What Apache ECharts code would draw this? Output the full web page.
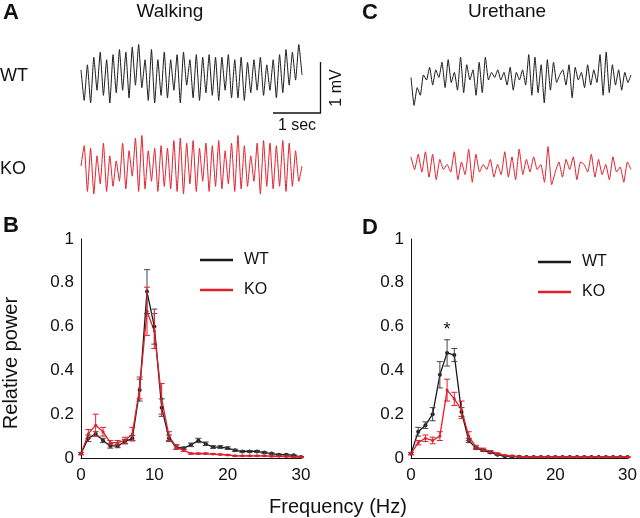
<!DOCTYPE html>
<html><head><meta charset="utf-8">
<script src="https://cdn.jsdelivr.net/npm/echarts@6/dist/echarts.min.js"></script>
<style>html,body{margin:0;padding:0;background:#fff}#c{width:640px;height:518px}</style>
</head><body><div id="c"></div>
<script>
// ---- Data ----
var freq = [];
for (var f = 0; f <= 30; f++) freq.push(f);

// Panel B (walking) relative power, mean and SEM
var walkWT = [0.02,0.09,0.11,0.08,0.055,0.055,0.075,0.09,0.31,0.76,0.60,0.23,0.09,0.05,0.045,0.06,0.08,0.065,0.05,0.05,0.045,0.035,0.03,0.03,0.03,0.025,0.02,0.015,0.015,0.012,0.005];
var walkWTerr = [0.005,0.015,0.01,0.01,0.01,0.008,0.01,0.012,0.05,0.10,0.08,0.04,0.015,0.01,0.005,0.008,0.01,0.008,0.006,0.006,0.006,0.005,0.004,0.004,0.004,0.004,0.003,0.003,0.003,0.003,0.002];
var walkKO = [0.02,0.11,0.15,0.12,0.07,0.07,0.08,0.11,0.32,0.67,0.58,0.27,0.10,0.05,0.035,0.02,0.02,0.02,0.018,0.016,0.014,0.01,0.01,0.01,0.01,0.01,0.008,0.008,0.007,0.005,0.004];
var walkKOerr = [0.005,0.02,0.05,0.02,0.01,0.01,0.015,0.03,0.05,0.11,0.08,0.07,0.02,0.01,0.005,0.003,0.003,0.003,0.002,0.002,0.002,0.002,0.002,0.002,0.002,0.002,0.002,0.002,0.002,0.002,0.002];

// Panel D (urethane)
var ureWT = [0.02,0.12,0.15,0.20,0.38,0.48,0.47,0.21,0.08,0.045,0.035,0.025,0.015,0.008,0.006,0.006,0.005,0.005,0.005,0.005,0.005,0.005,0.005,0.005,0.005,0.005,0.005,0.005,0.005,0.005,0.004];
var ureWTerr = [0.005,0.02,0.015,0.03,0.06,0.06,0.03,0.02,0.01,0.005,0.005,0.004,0.003,0.002,0.002,0.002,0.002,0.002,0.002,0.002,0.002,0.002,0.002,0.002,0.002,0.002,0.002,0.002,0.002,0.002,0.002];
var ureKO = [0.02,0.07,0.09,0.08,0.10,0.31,0.27,0.22,0.10,0.05,0.04,0.03,0.02,0.012,0.01,0.006,0.005,0.005,0.005,0.005,0.005,0.005,0.005,0.005,0.004,0.004,0.004,0.004,0.004,0.004,0.004];
var ureKOerr = [0.005,0.01,0.015,0.015,0.02,0.05,0.03,0.04,0.02,0.008,0.005,0.004,0.003,0.002,0.002,0.002,0.002,0.002,0.002,0.002,0.002,0.002,0.002,0.002,0.002,0.002,0.002,0.002,0.002,0.002,0.002];

// Example traces (mV)
var traceWalkWT = [0.1,-0.5,0.2,-0.55,0.35,-0.3,0.45,-0.4,0.3,-0.55,0.4,-0.35,0.5,-0.3,0.45,-0.45,0.55,-0.2,0.6,-0.25,0.3,-0.5,0.5,-0.55,0.3,-0.4,0.45,-0.45,0.3,-0.3,0.4,-0.55,0.45,-0.2,0.3,-0.45,0.4,-0.5,0.35,-0.35,0.4,-0.4,0.35,-0.5,0.35,-0.3,0.4,-0.45,0.3,-0.45,0.35,-0.5,0.25,-0.35,0.3,-0.3,0.35,-0.4,0.2,-0.3,0.3,-0.45,0.4,-0.35,0.5,-0.2,0.45,-0.1,0.6,0.0];
var traceWalkKO = [0.0,0.4,-0.5,0.35,-0.55,0.2,-0.35,0.45,-0.5,0.2,-0.4,0.1,-0.3,0.45,-0.45,0.3,-0.2,0.55,-0.5,0.6,-0.45,0.3,-0.3,0.35,-0.5,0.4,-0.4,0.35,-0.45,0.5,-0.5,0.55,-0.55,0.45,-0.35,0.5,-0.5,0.35,-0.3,0.45,-0.5,0.4,-0.4,0.5,-0.45,0.3,-0.35,0.45,-0.5,0.6,-0.45,0.4,-0.4,0.2,-0.3,0.45,-0.55,0.5,-0.4,0.45,-0.45,0.4,-0.4,0.5,-0.5,0.45,-0.4,0.3,-0.3,0.0];
var traceUreWT = [0.05,-0.5,-0.15,-0.3,0.1,0.0,0.25,-0.1,0.2,0.05,0.35,-0.15,0.4,-0.05,0.15,-0.2,0.45,-0.25,0.3,0.0,0.2,-0.3,0.35,-0.25,0.45,0.0,0.15,0.05,0.2,0.0,0.15,-0.1,0.25,-0.2,0.15,0.0,0.2,-0.1,0.5,-0.3,0.45,-0.25,0.3,-0.45,0.4,-0.2,0.35,-0.05,0.1,0.2,-0.1,0.3,-0.35,0.25,0.0,0.15,-0.15,0.3,-0.1,0.2,-0.05,0.5,-0.3,0.55,-0.25,0.3,-0.1,0.2,-0.2,0.15,-0.05,0.1];
var traceUreKO = [0.2,-0.05,0.25,-0.1,0.3,-0.2,0.25,-0.25,0.15,-0.05,0.05,-0.1,0.3,-0.25,0.1,-0.15,0.35,-0.3,0.25,-0.1,0.05,-0.05,0.15,-0.2,0.05,-0.15,0.3,-0.2,0.2,-0.25,0.35,-0.15,0.15,-0.1,0.2,-0.05,0.05,-0.3,0.4,-0.35,-0.1,0.1,-0.2,0.15,-0.05,0.2,-0.25,0.1,0.05,-0.1,0.25,-0.2,0.15,-0.15,0.05,-0.25,0.2,-0.1,0.0,-0.3,0.1,-0.05];

var xTicks = [0, 10, 20, 30];
var yTicks = [0, 0.2, 0.4, 0.6, 0.8, 1];

var BLACK = '#1a1a1a', RED = '#e0202c', FONT = 'Liberation Sans, Arial, sans-serif';

function idx(a){ return a.map(function(v,i){ return [i, v]; }); }
function pairs(y){ return freq.map(function(f,i){ return [f, y[i]]; }); }
function errData(y, e){ return freq.map(function(f,i){ return [f, y[i]-e[i], y[i]+e[i]]; }); }

function errSeries(name, xi, y, e, color){
  return {
    type:'custom', name:name, xAxisIndex:xi, yAxisIndex:xi, z:5,
    data: errData(y,e),
    renderItem: function(params, api){
      var lo = api.coord([api.value(0), api.value(1)]);
      var hi = api.coord([api.value(0), api.value(2)]);
      var w = 3;
      return {type:'group', children:[
        {type:'line', shape:{x1:lo[0],y1:lo[1],x2:hi[0],y2:hi[1]}, style:{stroke:color,lineWidth:1}},
        {type:'line', shape:{x1:hi[0]-w,y1:hi[1],x2:hi[0]+w,y2:hi[1]}, style:{stroke:color,lineWidth:1}},
        {type:'line', shape:{x1:lo[0]-w,y1:lo[1],x2:lo[0]+w,y2:lo[1]}, style:{stroke:color,lineWidth:1}}
      ]};
    }
  };
}
function lineSeries(name, xi, y, color, sym){
  return {type:'line', name:name, xAxisIndex:xi, yAxisIndex:xi, data:pairs(y),
    symbol:'circle', symbolSize:sym, showSymbol:true, color:color,
    lineStyle:{color:color, width:1.3}, itemStyle:{color:color}, z:3};
}
function traceSeries(xi, d, color){
  return {type:'line', xAxisIndex:xi, yAxisIndex:xi, data:idx(d), showSymbol:false, symbol:'none',
    lineStyle:{color:color, width:1}, smooth:0.15, silent:true};
}

var grids = [
  {left:81, top:239, width:220, height:219},   // B
  {left:411, top:239, width:219, height:219},  // D
  {left:81, top:44.5, width:221, height:61},   // walk WT
  {left:81, top:135.5, width:221, height:61},  // walk KO
  {left:411, top:49.5, width:220, height:61},  // ure WT
  {left:411, top:136.5, width:220, height:61}  // ure KO
];
var traceLens = [traceWalkWT.length, traceWalkKO.length, traceUreWT.length, traceUreKO.length];

var xAxes = [], yAxes = [];
for (var g = 0; g < 2; g++){
  xAxes.push({gridIndex:g, type:'value', min:0, max:30, interval:10,
    axisLine:{show:true, onZero:false, lineStyle:{color:'#111', width:1}}, axisTick:{show:false},
    splitLine:{show:false}, axisLabel:{color:'#111', fontSize:17, fontFamily:FONT, margin:9}});
  yAxes.push({gridIndex:g, type:'value', min:0, max:1, interval:0.2,
    axisLine:{show:true, lineStyle:{color:'#111', width:1}}, axisTick:{show:false},
    splitLine:{show:false}, axisLabel:{color:'#111', fontSize:17, fontFamily:FONT, margin:7,
      formatter:function(v){ return String(+v.toFixed(1)); }}});
}
for (var t = 0; t < 4; t++){
  xAxes.push({gridIndex:t+2, type:'value', min:0, max:traceLens[t]-1, show:false});
  yAxes.push({gridIndex:t+2, type:'value', min:-0.6, max:0.6, show:false});
}

var series = [
  lineSeries('WT', 0, walkWT, BLACK, 4),
  lineSeries('KO', 0, walkKO, RED, 3),
  errSeries('WT', 0, walkWT, walkWTerr, '#444'),
  errSeries('KO', 0, walkKO, walkKOerr, RED),
  lineSeries('WT', 1, ureWT, BLACK, 4),
  lineSeries('KO', 1, ureKO, RED, 3),
  errSeries('WT', 1, ureWT, ureWTerr, '#444'),
  errSeries('KO', 1, ureKO, ureKOerr, RED),
  traceSeries(2, traceWalkWT, BLACK),
  traceSeries(3, traceWalkKO, RED),
  traceSeries(4, traceUreWT, BLACK),
  traceSeries(5, traceUreKO, RED)
];
// significance asterisk in D at 5 Hz
series[4].markPoint = {symbol:'circle', symbolSize:1, itemStyle:{color:'rgba(0,0,0,0)'},
  label:{show:true, formatter:'*', color:'#111', fontSize:18, fontFamily:FONT, position:'inside'},
  data:[{coord:[5, 0.585]}]};

function legend(left, top){
  return {left:left, top:top, orient:'vertical', itemWidth:33, itemHeight:2.5, itemGap:14, icon:'rect',
    selectedMode:false, data:['WT','KO'],
    textStyle:{color:'#111', fontSize:16, fontFamily:FONT, padding:[0,0,0,6]}};
}

var T = function(x, y, text, size, opts){
  opts = opts || {};
  return {type:'text', left:x, top:y, rotation:opts.rot||0, silent:true,
    style:{text:text, fill:'#111', font:(opts.bold?'bold ':'')+size+'px '+FONT,
      textAlign:opts.align||'left', textVerticalAlign:opts.valign||'top'}};
};

var graphics = [
  T(3, 2, 'A', 22, {bold:true}),
  T(362, 2, 'C', 22, {bold:true}),
  T(3, 215, 'B', 22, {bold:true}),
  T(362, 217, 'D', 22, {bold:true}),
  {type:'text', x:170, y:2, silent:true, style:{text:'Walking', fill:'#111', font:'19px '+FONT, textAlign:'center', textVerticalAlign:'top'}},
  {type:'text', x:507, y:2, silent:true, style:{text:'Urethane', fill:'#111', font:'19px '+FONT, textAlign:'center', textVerticalAlign:'top'}},
  T(0, 67, 'WT', 18),
  T(0, 160, 'KO', 18),
  {type:'text', x:297, y:118, silent:true, style:{text:'1 sec', fill:'#111', font:'16px '+FONT, textAlign:'center', textVerticalAlign:'top'}},
  {type:'text', x:337, y:88, rotation:Math.PI/2, silent:true, style:{text:'1 mV', fill:'#111', font:'16px '+FONT, textAlign:'center', textVerticalAlign:'middle'}},
  {type:'line', silent:true, shape:{x1:273, y1:113, x2:321, y2:113}, style:{stroke:'#111', lineWidth:1.3}},
  {type:'line', silent:true, shape:{x1:320.5, y1:62, x2:320.5, y2:113}, style:{stroke:'#111', lineWidth:1.3}},
  {type:'text', x:11, y:363, rotation:Math.PI/2, silent:true, style:{text:'Relative power', fill:'#111', font:'20px '+FONT, textAlign:'center', textVerticalAlign:'middle'}},
  {type:'text', x:338, y:507, silent:true, style:{text:'Frequency (Hz)', fill:'#111', font:'20px '+FONT, textAlign:'center', textVerticalAlign:'middle'}}
];

var chart = echarts.init(document.getElementById('c'), null, {renderer:'canvas'});
chart.setOption({
  animation:false,
  backgroundColor:'#fff',
  grid:grids, xAxis:xAxes, yAxis:yAxes,
  legend:[legend(195, 247), legend(533, 249)],
  series:series,
  graphic:graphics
});
</script></body></html>
